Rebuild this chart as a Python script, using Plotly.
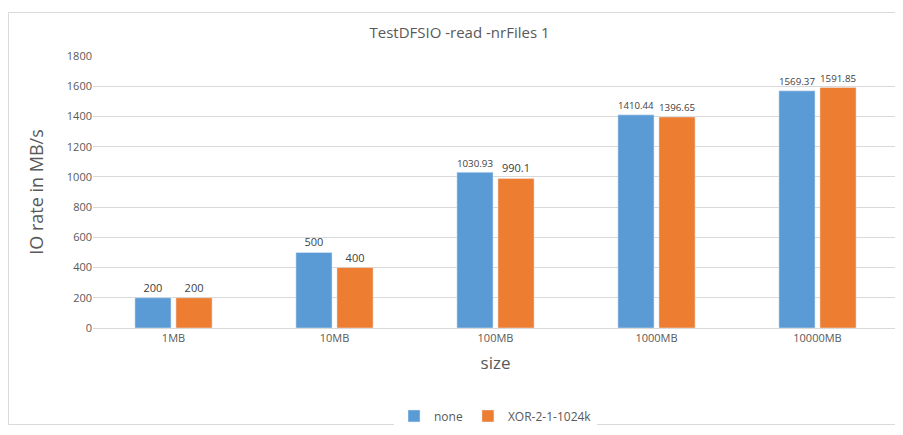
import plotly.graph_objects as go

sizes = ["1MB", "10MB", "100MB", "1000MB", "10000MB"]
none_vals = [200, 500, 1030.93, 1410.44, 1569.37]
xor_vals = [200, 400, 990.1, 1396.65, 1591.85]

fig = go.Figure()
fig.add_trace(go.Bar(name="none", x=sizes, y=none_vals, marker_color="#5B9BD5",
                     text=[f"{v:g}" for v in none_vals], textposition="outside",
                     textfont=dict(size=11, color="#404040"), cliponaxis=False))
fig.add_trace(go.Bar(name="XOR-2-1-1024k", x=sizes, y=xor_vals, marker_color="#ED7D31",
                     text=[f"{v:g}" for v in xor_vals], textposition="outside",
                     textfont=dict(size=11, color="#404040"), cliponaxis=False))

fig.update_layout(
    width=903, height=435,
    margin=dict(l=85, r=13, t=48, b=103),
    font=dict(family="Open Sans", color="#595959", size=11),
    title=dict(text="TestDFSIO -read -nrFiles 1", x=0.5, y=0.955, xanchor="center",
               font=dict(size=15, color="#595959")),
    barmode="group", bargap=0.49, bargroupgap=0.12,
    plot_bgcolor="white", paper_bgcolor="white",
    xaxis=dict(title=dict(text="size", font=dict(size=17), standoff=12),
               showline=True, linecolor="#D9D9D9", ticks=""),
    yaxis=dict(title=dict(text="IO rate in MB/s", font=dict(size=18), standoff=18),
               range=[0, 1800], dtick=200, gridcolor="#D9D9D9", zeroline=False),
    legend=dict(orientation="h", x=0.5, xanchor="center", y=-0.27, yanchor="top",
                font=dict(size=12)),
    shapes=[dict(type="rect", xref="paper", yref="paper", x0=-0.105, x1=1.014,
                 y0=-0.355, y1=1.16, line=dict(color="#D9D9D9", width=1))],
)
fig.write_html("out.html")
